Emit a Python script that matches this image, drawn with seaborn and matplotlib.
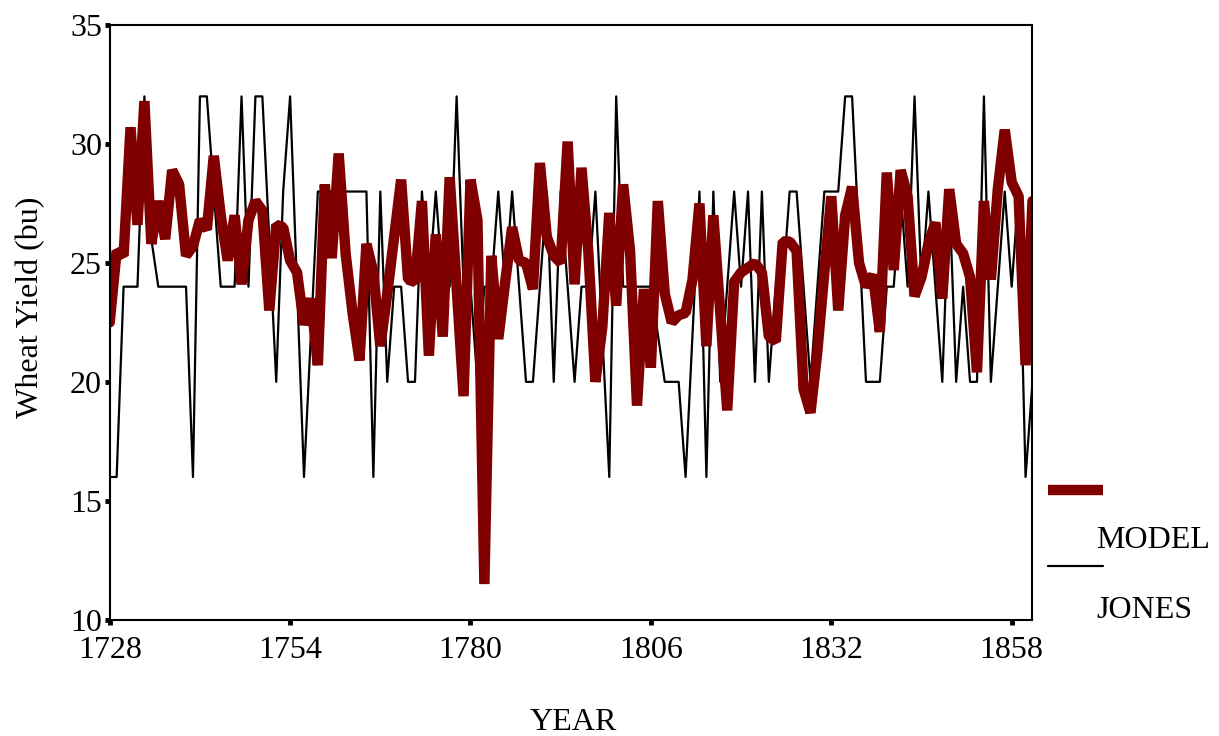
import numpy as np
import pandas as pd
import matplotlib
matplotlib.use("Agg")
import matplotlib.pyplot as plt
from matplotlib.lines import Line2D
import seaborn as sns

years = np.arange(1728, 1862)

model = [
    22.5, 25.5, 25.3, 30.7, 26.6, 31.8, 25.8, 27.6, 26.0, 28.9,   # 1728-1737
    28.3, 25.3, 25.7, 26.8, 26.4, 29.5, 27.0, 25.1, 27.0, 24.1,   # 1738-1747
    26.8, 27.6, 27.2, 23.0, 26.6, 26.5, 25.1, 24.6, 22.4, 23.5,   # 1748-1757
    20.7, 28.3, 25.2, 29.6, 25.4, 22.9, 20.9, 25.8, 24.6, 21.5,   # 1758-1767
    23.7, 26.1, 28.5, 24.3, 24.2, 27.6, 21.1, 26.2, 21.9, 28.6,   # 1768-1777
    24.0, 19.4, 28.5, 26.8, 11.5, 25.3, 21.8, 24.2, 26.5, 25.1,   # 1778-1787
    25.0, 23.9, 29.2, 26.1, 25.3, 25.0, 30.1, 24.1, 29.0, 25.4,   # 1788-1797
    20.0, 22.3, 27.1, 23.2, 28.3, 25.5, 19.0, 23.9, 20.6, 27.6,   # 1798-1807
    23.7, 22.5, 22.8, 22.9, 24.3, 27.5, 21.5, 27.0, 22.9, 18.8,   # 1808-1817
    24.2, 24.6, 24.8, 25.0, 24.6, 21.9, 21.7, 25.9, 25.9, 25.5,   # 1818-1827
    19.7, 18.7, 21.3, 24.6, 27.8, 23.0, 27.0, 28.2, 25.0, 24.0,   # 1828-1837
    24.5, 22.1, 28.8, 24.7, 28.9, 27.8, 23.6, 24.4, 25.8, 26.7,   # 1838-1847
    23.5, 28.1, 25.8, 25.4, 24.4, 20.4, 27.6, 24.3, 28.1, 30.6,   # 1848-1857
    28.4, 27.8, 20.7, 27.6,                                       # 1858-1861
]

jones = [
    16, 16, 24, 24, 24, 32, 26, 24, 24, 24,   # 1728-1737
    24, 24, 16, 32, 32, 28, 24, 24, 24, 32,   # 1738-1747
    24, 32, 32, 26, 20, 28, 32, 24, 16, 22,   # 1748-1757
    28, 28, 28, 28, 28, 28, 28, 28, 16, 28,   # 1758-1767
    20, 24, 24, 20, 20, 28, 24, 28, 24, 24,   # 1768-1777
    32, 24, 24, 20, 24, 24, 28, 24, 28, 24,   # 1778-1787
    20, 20, 24, 28, 20, 28, 24, 20, 24, 24,   # 1788-1797
    28, 22, 16, 32, 24, 24, 24, 24, 24, 22,   # 1798-1807
    20, 20, 20, 16, 22, 28, 16, 28, 20, 24,   # 1808-1817
    28, 24, 28, 20, 28, 20, 24, 24, 28, 28,   # 1818-1827
    24, 20, 24, 28, 28, 28, 32, 32, 26, 20,   # 1828-1837
    20, 20, 24, 24, 28, 24, 32, 24, 28, 24,   # 1838-1847
    20, 28, 20, 24, 20, 20, 32, 20, 24, 28,   # 1848-1857
    24, 28, 16, 20,                           # 1858-1861
]

x_ticks = [1728, 1754, 1780, 1806, 1832, 1858]
y_ticks = [10, 15, 20, 25, 30, 35]

sns.set_style("white")
plt.rcParams["font.family"] = ["Liberation Serif", "DejaVu Serif"]
plt.rcParams["text.color"] = "black"
plt.rcParams["xtick.color"] = "black"
plt.rcParams["ytick.color"] = "black"

df = pd.DataFrame({"year": years, "model": model, "jones": jones})

fig = plt.figure(figsize=(12.19, 7.36), dpi=100)
ax = fig.add_axes([0.090, 0.158, 0.757, 0.808])

sns.lineplot(data=df, x="year", y="jones", color="black", linewidth=1.6,
             ax=ax, solid_joinstyle="round")
sns.lineplot(data=df, x="year", y="model", color="#800000", linewidth=7.5,
             ax=ax, solid_joinstyle="bevel")

ax.set_xlim(1728, 1861)
ax.set_ylim(10, 35)
ax.set_xticks(x_ticks)
ax.set_yticks(y_ticks)
ax.set_xlabel("")
ax.set_ylabel("")
for s in ax.spines.values():
    s.set_visible(True)
    s.set_linewidth(1.5)
    s.set_color("black")
ax.tick_params(axis="both", direction="out", length=3.5, width=3.5,
               colors="black", labelsize=23, bottom=True, left=True)
ax.tick_params(axis="x", pad=8)
ax.tick_params(axis="y", pad=2)

fig.text(0.025, 0.583, "Wheat Yield (bu)", rotation=90, ha="center",
         va="center", fontsize=23)
fig.text(0.470, 0.019, "YEAR", ha="center", va="center", fontsize=23)

# legend drawn by hand, labels sit below-right of the line samples
fig.add_artist(Line2D([0.860, 0.905], [0.334, 0.334], color="#800000",
                      linewidth=7.5, solid_capstyle="butt"))
fig.add_artist(Line2D([0.860, 0.905], [0.231, 0.231], color="black",
                      linewidth=1.6))
fig.text(0.899, 0.266, "MODEL", ha="left", va="center", fontsize=23)
fig.text(0.899, 0.171, "JONES", ha="left", va="center", fontsize=23)

fig.savefig("out.png", dpi=100)
